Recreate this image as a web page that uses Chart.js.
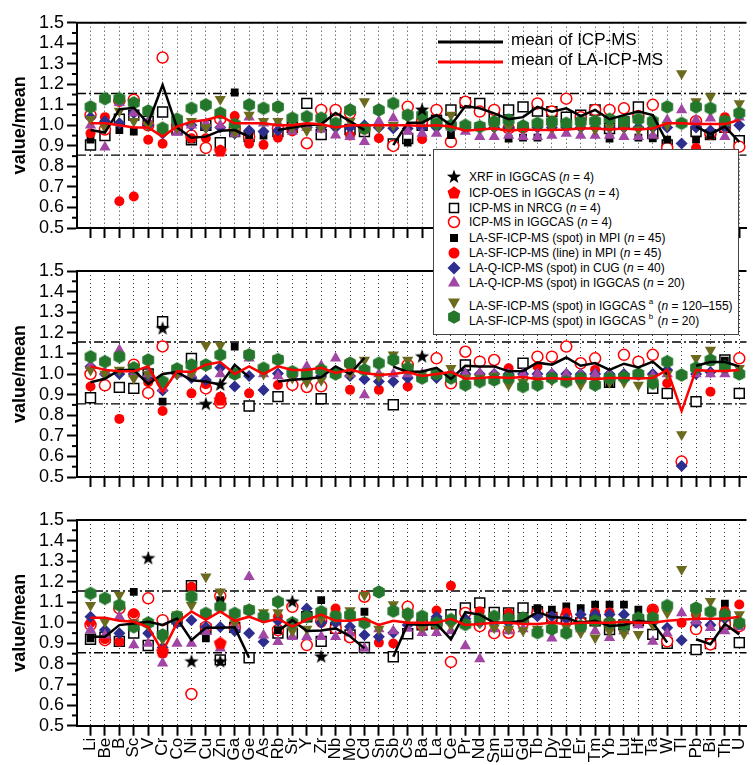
<!DOCTYPE html>
<html>
<head>
<meta charset="utf-8">
<script src="https://cdn.jsdelivr.net/npm/chart.js@4.4.0/dist/chart.umd.min.js"></script>
<style>
body{margin:0;background:#fff;width:755px;height:765px;overflow:hidden;position:relative;font-family:"Liberation Sans",Arial,sans-serif;color:#000}
canvas{position:absolute;left:0}
#legend{position:absolute;left:433px;top:149px;width:306px;height:186px;border:1px solid #444;background:#fff;box-sizing:border-box;font-size:12px;z-index:5}
.row{position:absolute;left:0;height:16px;white-space:nowrap}
.row svg{position:absolute;left:12px;top:0}
.row span{position:absolute;left:35px;top:0;line-height:16px}
.row sup{font-size:8px;vertical-align:6px;margin-left:3px;margin-right:1px}
#means{position:absolute;left:438px;top:30px;z-index:5;font-size:17px}
#means div{position:relative;height:20px;line-height:20px}
#means svg{position:absolute;left:0;top:0}
#means span{position:absolute;left:73px;top:0;white-space:nowrap}
</style>
</head>
<body>
<canvas id="c1" width="755" height="250" style="top:0"></canvas>
<canvas id="c2" width="755" height="250" style="top:250px"></canvas>
<canvas id="c3" width="755" height="265" style="top:500px"></canvas>
<div id="means"></div>
<div id="legend"></div>
<script>
const _ = null;
const elements = ['Li','Be','B','Sc','V','Cr','Co','Ni','Cu','Zn','Ga','Ge','As','Rb','Sr','Y','Zr','Nb','Mo','Cd',
  'Sn','Sb','Cs','Ba','La','Ce','Pr','Nd','Sm','Eu','Gd','Tb','Dy','Ho','Er','Tm','Yb','Lu','Hf','Ta','W','Tl','Pb','Bi','Th','U'];
const limits = [0.855, 1.155];

// ---- top panel ----
const xrf1 = [_,_,_,_,_,_,_,_,_,_, _,_,_,_,_,_,_,_,_,_, _,_,_,1.075,_,_,_,_,_,_, _,_,_,_,_,_,_,_,_,_, _,_,_,_,_,_];
const oes1 = [_,_,_,_,_,_,_,_,_,.875, _,_,_,_,_,_,_,_,_,_, _,_,_,_,_,_,_,_,_,_, _,_,_,_,_,_,_,_,_,_, _,_,_,_,_,_];
const nrcg1 = [.904,.95,1.03,1.05,1.02,1.065,.98,.93,1.0,.915,
  .97,.945,_,.97,.99,1.107,.955,1.045,.98,.97,
  _,.91,.936,1.0,1.025,1.075,1.11,1.107,1.04,1.075,
  1.09,1.07,1.067,1.04,1.05,1.075,.985,1.017,1.09,.96,
  .905,_,.97,.955,.99,.925];
const icp1 = [1.05,.98,1.12,1.125,1.0,1.33,1.0,.95,.89,1.03,
  .985,.945,_,.985,.99,.913,1.075,1.075,1.06,.985,
  _,.9,1.09,1.02,1.075,.92,1.115,1.067,1.075,.985,
  .99,1.107,1.067,1.13,1.04,1.075,1.075,1.083,1.045,1.1,
  .89,_,1.02,.96,.99,.896];
const mpiSpot1 = [.93,_,.977,.97,_,_,_,.93,_,_,
  1.16,.95,.95,_,_,_,_,_,_,_,
  _,_,.916,_,_,.953,_,_,_,.935,
  .94,.94,_,_,_,_,.935,_,.94,.937,
  .93,_,.93,.953,_,_];
const mpiLine1 = [.961,1.04,.63,.653,.93,.91,_,.937,.937,.88,
  1.045,.91,.905,.94,.97,_,_,_,.95,_,
  .937,_,_,.932,_,_,_,_,_,_,
  _,_,_,_,_,_,_,_,_,_,
  _,_,.89,_,1.04,_];
const cug1 = [1.04,1.02,1.01,1.06,1.0,.96,1.0,1.0,.99,.99,
  .96,.975,.97,.975,.985,.99,.99,.99,.99,1.0,
  .99,.986,.985,.99,.99,.99,.99,.99,.99,.99,
  .99,.99,.99,.99,.99,.99,.99,.99,.99,.99,
  .99,.912,.99,.975,.99,1.0];
const qIgg1 = [1.0,.893,1.11,1.06,1.02,.98,.965,1.0,1.01,1.0,
  .96,1.04,1.01,1.01,.97,.99,.98,.952,.945,.92,
  1.02,1.034,.97,.96,.96,.99,.97,.945,.945,.95,
  .945,.945,.95,.96,.95,.95,.95,.945,.945,.95,
  1.026,1.075,1.026,1.034,.945,1.04];
const sfA1 = [1.03,.99,1.07,1.02,1.0,.97,.99,1.02,.99,1.127,
  .965,1.05,1.02,1.02,.99,.975,.99,1.0,1.02,1.116,
  .99,1.0,1.04,1.02,1.0,1.05,1.0,1.0,.99,.99,
  .99,1.0,.99,1.0,.99,.98,.99,.99,.98,.99,
  1.0,1.253,1.116,1.14,1.03,1.107];
const sfB1 = [1.09,1.13,1.13,1.11,1.07,.986,1.03,1.083,1.1,1.06,
  1.005,1.1,1.083,1.09,1.035,1.042,1.035,1.01,1.075,.985,
  1.075,1.107,1.05,1.05,1.01,1.0,1.0,.994,1.018,1.026,
  .997,1.01,1.018,1.01,1.02,1.02,1.03,1.02,1.03,1.02,
  1.09,1.01,1.09,1.083,1.02,1.06];
const icpMean1 = [.977,.965,1.078,1.086,1.01,1.197,.99,.94,.945,.974,
  .977,.945,_,.977,.99,1.0,1.005,1.06,1.02,.977,
  _,.904,1.013,1.013,1.05,1.0,1.094,1.083,1.058,1.03,
  1.04,1.09,1.067,1.083,1.045,1.075,1.03,1.05,1.067,1.05,
  .916,_,.994,.958,.994,.92];
const laMean1 = [1.01,1.01,1.0,.99,.99,.945,.994,1.018,1.026,1.045,
  1.01,1.01,1.01,1.0,1.0,1.01,1.005,.99,1.0,1.0,
  1.0,1.0,1.0,.997,1.0,.994,.974,.98,.985,.974,
  .98,.977,.977,.98,.985,.985,.98,.985,.98,.985,
  1.01,1.01,1.006,1.006,1.006,1.026];

// ---- middle panel ----
const xrf2 = [_,_,_,_,_,1.22,_,_,.853,.947, _,_,_,_,_,_,_,_,_,_, _,_,_,1.084,_,_,_,_,_,_, _,_,_,_,_,_,_,_,_,_, _,_,_,_,_,_];
const oes2 = [_,_,_,_,_,_,_,_,_,.874, _,_,_,_,_,_,_,_,_,_, _,_,_,_,_,_,_,_,_,_, _,_,_,_,_,_,_,_,_,_, _,_,_,_,_,_];
const nrcg2 = [.885,_,.935,.93,1.0,1.254,_,1.076,_,_,
  _,.845,_,.89,_,_,.88,_,_,_,
  _,.851,_,_,_,_,1.044,_,_,_,
  1.052,_,_,_,_,_,.96,_,_,.93,
  .906,_,.866,_,1.068,.906];
const icp2 = [1.0,.945,_,1.045,.908,1.134,_,_,.93,.86,
  _,_,_,_,.947,.937,.94,_,1.05,_,
  _,_,1.044,_,1.076,.955,1.108,1.06,1.068,_,
  _,1.084,1.084,1.133,1.052,1.076,_,1.093,1.06,1.093,
  _,.575,_,_,_,1.076];
const mpiSpot2 = [_,_,_,_,.99,.866,_,_,_,_,
  1.133,_,_,_,_,_,_,_,_,_,
  _,_,_,_,_,_,1.0,_,_,_,
  1.0,_,_,_,_,_,.955,_,_,_,
  _,_,_,1.06,1.065,_];
const mpiLine2 = [.939,_,.782,_,.96,.82,_,.906,.95,.89,
  _,.906,_,.947,_,_,_,_,.923,_,
  .923,_,.939,_,_,_,_,_,_,1.028,
  _,1.036,_,_,_,1.02,_,_,_,_,
  .955,_,_,.914,_,_];
const cug2 = [1.036,1.0,1.0,1.0,.99,.92,1.0,.98,.971,1.03,
  .939,.99,.922,1.003,.99,.98,.99,1.0,.99,.975,
  .963,.963,.98,.98,.98,1.0,1.0,1.0,1.0,1.0,
  1.0,1.0,1.0,1.0,1.0,1.0,1.0,1.0,1.0,1.0,
  1.02,.553,1.0,1.01,1.02,1.0];
const qIgg2 = [1.04,1.01,1.117,1.0,1.0,.93,1.0,1.0,1.04,1.0,
  1.0,1.076,1.0,.99,1.0,1.036,1.04,1.076,1.0,.898,
  1.0,1.0,1.0,1.0,1.0,1.01,1.0,1.005,1.0,1.0,
  1.0,1.0,1.0,1.0,1.0,1.0,1.0,.99,1.0,.99,
  1.0,_,1.0,1.0,1.0,1.0];
const sfA2 = [1.02,1.0,1.02,.979,1.0,.96,1.0,1.0,1.14,1.14,
  1.0,1.1,1.0,1.076,.98,.96,.97,1.0,1.0,1.068,
  .99,1.093,1.068,1.0,1.0,1.028,.98,.98,.99,.947,
  .96,.97,.97,.97,.947,.97,.96,.96,.947,.98,
  1.0,.706,1.076,1.117,1.04,1.028];
const sfB2 = [1.084,1.06,1.084,1.03,1.068,.963,1.025,1.044,1.044,1.093,
  1.0,1.093,1.028,1.07,1.011,1.0,1.02,1.0,1.052,1.02,
  1.052,1.068,1.028,.98,1.0,.98,.947,.963,.971,.98,
  .939,.947,.98,.963,.98,.947,.98,.985,1.0,.955,
  1.06,.995,1.03,1.068,1.036,1.0];
const icpMean2 = [.96,.977,1.02,1.02,.951,1.0,1.01,.97,.964,.948,
  1.045,.984,_,.964,.972,.977,.984,1.037,1.0,1.078,
  _,1.036,1.01,1.012,1.03,.976,1.04,1.037,1.037,1.013,
  1.015,1.055,1.045,1.08,1.04,1.053,1.02,1.05,1.032,1.06,
  1.0,_,1.04,1.058,1.058,1.037];
const laMean2 = [1.037,1.02,1.013,1.013,1.037,.913,1.013,1.01,1.045,1.058,
  1.0,1.037,1.0,1.037,1.02,1.02,1.03,1.005,1.02,1.005,
  .995,1.0,1.01,.99,1.0,1.01,.977,.98,.985,.98,
  .985,.975,.98,.975,.98,.975,.98,.98,.978,.98,
  1.02,.82,1.02,1.015,1.015,1.02];

// ---- bottom panel ----
const xrf3 = [_,_,_,_,1.313,_,_,.811,_,.811, _,_,_,_,1.102,_,.835,_,_,_, _,_,_,_,_,_,_,_,_,_, _,_,_,_,_,_,_,_,_,_, _,_,_,_,_,_];
const oes3 = [_,_,_,_,_,.86,_,_,_,.9, _,_,_,_,_,_,_,_,_,_, _,_,_,_,_,_,_,_,_,_, _,_,_,_,_,_,_,_,_,_, _,_,_,_,_,_];
const nrcg3 = [.92,.93,.91,.95,.89,.97,1.02,1.18,.97,.82,
  .978,.83,_,.95,.95,1.03,.91,.973,.941,.88,
  _,.835,.947,.99,.995,1.04,1.072,1.097,1.05,1.048,
  1.072,1.054,1.026,1.018,1.0,1.01,.968,.99,1.01,.944,
  .9,_,.87,.899,.994,.904];
const icp3 = [.99,.916,1.07,1.04,1.119,1.013,1.02,.654,.98,1.13,
  .978,_,_,.965,1.078,.892,1.01,.973,.93,1.127,
  _,_,1.078,.99,.995,.81,1.048,.984,.95,.952,
  1.0,1.05,1.03,1.03,1.0,1.01,1.0,.99,1.01,1.064,
  .91,_,.97,.895,.994,.984];
const mpiSpot3 = [.924,_,_,1.151,_,_,1.0,_,.924,1.11,
  _,_,_,.965,1.0,_,1.11,_,_,1.054,
  _,_,_,_,_,_,_,_,1.03,_,
  1.03,1.072,1.064,1.08,1.072,1.089,1.089,1.089,1.064,_,
  _,_,_,_,1.093,_];
const mpiLine3 = [1.0,.92,.908,1.046,_,.85,_,1.175,_,.9,
  _,_,_,1.03,1.0,_,1.0,1.07,_,_,
  .904,.9,_,_,1.06,1.18,_,1.057,_,1.048,
  _,_,_,1.05,_,1.05,1.05,_,_,1.064,
  _,1.0,1.04,_,1.057,1.089];
const cug3 = [1.03,.965,.949,.99,.95,.88,1.0,1.013,.98,.98,
  .96,.949,.908,1.01,1.0,1.07,1.0,1.0,.981,.941,
  .932,.952,.99,.99,1.03,1.0,1.02,1.0,1.0,1.0,
  1.01,1.032,1.032,1.02,1.04,1.04,1.04,1.04,1.02,1.0,
  .976,.915,1.0,.99,1.02,1.0];
const qIgg3 = [.965,.94,1.03,.892,.9,.803,.9,.9,.957,.876,
  .99,1.224,.94,.908,.932,.932,.932,.932,.95,.876,
  .97,.96,.973,.952,.952,.96,.888,.824,.97,.96,
  .97,.96,.925,.97,.97,.96,.928,.96,.99,.909,
  .95,1.048,1.008,.976,.96,.98];
const sfA3 = [1.086,1.005,1.135,1.0,.99,.92,1.04,1.086,1.224,1.151,
  1.0,1.07,1.05,1.05,.96,.97,1.02,1.04,1.06,1.135,
  .97,1.089,1.02,.98,1.0,.99,1.0,1.0,.976,.97,
  .963,.97,.97,.98,.952,.928,.96,.947,.944,.99,
  1.048,1.26,1.04,1.105,1.03,1.04];
const sfB3 = [1.143,1.119,1.086,.981,1.0,.941,1.03,1.127,1.046,1.078,
  1.046,1.062,1.03,1.102,1.0,1.03,1.054,1.03,1.038,1.0,
  1.15,1.057,1.044,1.032,1.0,1.016,.992,1.02,1.032,1.02,
  1.024,.952,.97,.95,.984,1.01,1.0,.99,1.024,1.024,
  1.084,_,1.072,1.054,1.04,1.0];
const icpMean3 = [.932,.932,.989,.997,1.005,.99,1.021,.916,.976,.976,
  .978,.83,_,.958,1.013,.96,.963,.973,.935,.876,
  _,.835,.995,.99,.995,.92,1.052,1.04,1.0,1.0,
  1.01,1.052,1.028,1.024,1.0,1.01,.985,.99,1.01,1.0,
  .905,_,.92,.896,.994,.944];
const laMean3 = [1.025,1.025,1.01,1.005,.98,.86,1.0,1.055,1.015,1.055,
  1.01,1.03,1.003,1.02,.982,1.015,1.04,1.01,1.01,1.02,
  .99,1.01,1.0,1.0,1.0,1.02,.99,.995,1.0,1.0,
  .995,.995,1.0,.995,1.0,1.0,1.0,1.005,1.0,1.0,
  1.01,1.015,1.02,1.02,1.02,1.03];

const RED = '#ff0000', NAVY = '#2e2e8f', PURPLE = '#a246a6', OLIVE = '#6b6b1f', GREEN = '#23762a';

// polygon helper for star / pentagon / hexagon symbols
function poly(n, r, inner) {
  const pts = [];
  const k = inner ? 2 * n : n;
  for (let i = 0; i < k; i++) {
    const rr = inner && i % 2 ? inner : r;
    const a = -Math.PI / 2 + i * 2 * Math.PI / k;
    pts.push([rr * Math.cos(a), rr * Math.sin(a)]);
  }
  return pts;
}
function symbol(pts, color, size) {
  const c = document.createElement('canvas');
  c.width = c.height = size;
  const g = c.getContext('2d');
  g.beginPath();
  pts.forEach(p => g.lineTo(size / 2 + p[0], size / 2 + p[1]));
  g.closePath();
  g.fillStyle = color;
  g.fill();
  return c;
}
const starImg = symbol(poly(5, 7.5, 3), '#000', 16);
const pentImg = symbol(poly(5, 6.8), RED, 16);
const hexImg = symbol(poly(6, 6.8), GREEN, 16);

const markerStyles = [
  {pointStyle: starImg, order: 3},
  {pointStyle: pentImg, order: 4},
  {pointStyle: 'rect', pointRadius: 7, pointBackgroundColor: '#fff', pointBorderColor: '#000', pointBorderWidth: 1.5, order: 13},
  {pointStyle: 'circle', pointRadius: 5.5, pointBackgroundColor: '#fff', pointBorderColor: RED, pointBorderWidth: 1.5, order: 12},
  {pointStyle: 'rect', pointRadius: 5.5, pointBackgroundColor: '#000', pointBorderWidth: 0, order: 11},
  {pointStyle: 'circle', pointRadius: 5, pointBackgroundColor: RED, pointBorderWidth: 0, order: 10},
  {pointStyle: 'rectRot', pointRadius: 6, pointBackgroundColor: NAVY, pointBorderWidth: 0, order: 9},
  {pointStyle: 'triangle', pointRadius: 6.5, pointBackgroundColor: PURPLE, pointBorderWidth: 0, order: 8},
  {pointStyle: 'triangle', pointRotation: 180, pointRadius: 6.5, pointBackgroundColor: OLIVE, pointBorderWidth: 0, order: 7},
  {pointStyle: hexImg, order: 6}
];

const framePlugin = {
  id: 'frame',
  beforeDatasetsDraw(chart) {
    const {ctx, chartArea: a, scales: {y}} = chart;
    ctx.save();
    ctx.strokeStyle = '#000';
    ctx.lineWidth = 1.4;
    ctx.setLineDash([9, 3, 2, 3]);
    limits.forEach(v => {
      const py = y.getPixelForValue(v);
      ctx.beginPath(); ctx.moveTo(a.left, py); ctx.lineTo(a.right, py); ctx.stroke();
    });
    ctx.restore();
  },
  afterDraw(chart) {
    const {ctx, chartArea: a, scales: {y}} = chart;
    ctx.save();
    ctx.strokeStyle = '#000';
    ctx.lineWidth = 2;
    ctx.beginPath(); ctx.moveTo(a.left - 1, a.top); ctx.lineTo(a.right, a.top); ctx.stroke();
    // minor ticks
    for (let v = 0.55; v < 1.5; v += 0.1) {
      const py = y.getPixelForValue(v);
      ctx.beginPath(); ctx.moveTo(a.left - 5, py); ctx.lineTo(a.left, py); ctx.stroke();
    }
    ctx.restore();
  }
};

function makePanel(id, series, icpMean, laMean, padTop, axisH, showLabels) {
  const pts = arr => arr.map((v, i) => v == null ? null : {x: i, y: v}).filter(p => p);
  const datasets = series.map((arr, k) => Object.assign({type: 'scatter', data: pts(arr)}, markerStyles[k]));
  datasets.push({type: 'line', data: icpMean.map((v, i) => ({x: i, y: v})), borderColor: '#000', borderWidth: 2.5,
    pointRadius: 0, spanGaps: false, tension: 0, order: 1});
  datasets.push({type: 'line', data: laMean.map((v, i) => ({x: i, y: v})), borderColor: RED, borderWidth: 2.5,
    pointRadius: 0, spanGaps: false, tension: 0, order: 0});
  new Chart(document.getElementById(id), {
    type: 'scatter',
    data: {datasets},
    options: {
      responsive: false,
      animation: false,
      events: [],
      layout: {padding: {top: padTop, left: 0, right: 0, bottom: 0}},
      plugins: {legend: {display: false}, tooltip: {enabled: false}},
      scales: {
        x: {
          type: 'linear', min: -0.938, max: 45.5,
          afterBuildTicks: s => { s.ticks = elements.map((e, i) => ({value: i})); },
          afterFit: s => { s.height = axisH; s.paddingLeft = 0; s.paddingRight = 0; },
          ticks: {display: showLabels, autoSkip: false, minRotation: 90, maxRotation: 90, padding: 2,
            color: '#000', font: {family: '"Liberation Sans", Arial', size: 17},
            callback: v => elements[v]},
          grid: {color: '#333', lineWidth: 1, tickLength: 10, tickWidth: 2, tickColor: '#000'},
          border: {color: '#000', width: 2, dash: [1, 3]}
        },
        y: {
          min: 0.5, max: 1.5,
          afterFit: s => { s.width = 77; s.paddingTop = 0; s.paddingBottom = 0; },
          ticks: {stepSize: 0.1, autoSkip: false, color: '#000', padding: 3,
            font: {family: '"Liberation Sans", Arial', size: 18},
            callback: v => v.toFixed(1)},
          grid: {drawOnChartArea: false, tickLength: 10, tickWidth: 2, tickColor: '#000'},
          border: {color: '#000', width: 2},
          title: {display: true, text: 'value/mean', color: '#000', padding: {top: 9, bottom: 0},
            font: {family: '"Liberation Sans", Arial', size: 18, weight: 'bold'}}
        }
      }
    },
    plugins: [framePlugin]
  });
}

makePanel('c1', [xrf1, oes1, nrcg1, icp1, mpiSpot1, mpiLine1, cug1, qIgg1, sfA1, sfB1], icpMean1, laMean1, 22.7, 22, false);
makePanel('c2', [xrf2, oes2, nrcg2, icp2, mpiSpot2, mpiLine2, cug2, qIgg2, sfA2, sfB2], icpMean2, laMean2, 21, 23, false);
makePanel('c3', [xrf3, oes3, nrcg3, icp3, mpiSpot3, mpiLine3, cug3, qIgg3, sfA3, sfB3], icpMean3, laMean3, 20, 39.3, true);

// legends (html overlays)
function svgPoly(pts, fill) {
  return '<polygon points="' + pts.map(p => (8 + p[0]).toFixed(2) + ',' + (8 + p[1]).toFixed(2)).join(' ') + '" fill="' + fill + '"/>';
}
const legendRows = [
  [svgPoly(poly(5, 7.5, 3), '#000'), 'XRF in IGGCAS (<i>n</i> = 4)', 27],
  [svgPoly(poly(5, 6.8), RED), 'ICP-OES in IGGCAS (<i>n</i> = 4)', 43],
  ['<rect x="3.5" y="3.5" width="9" height="9" fill="#fff" stroke="#000" stroke-width="1.5"/>', 'ICP-MS in NRCG (<i>n</i> = 4)', 58],
  ['<circle cx="8" cy="8" r="5.5" fill="#fff" stroke="' + RED + '" stroke-width="1.5"/>', 'ICP-MS in IGGCAS (<i>n</i> = 4)', 72],
  ['<rect x="4" y="4" width="8" height="8" fill="#000"/>', 'LA-SF-ICP-MS (spot) in MPI (<i>n</i> = 45)', 88],
  ['<circle cx="8" cy="8" r="5.5" fill="' + RED + '"/>', 'LA-SF-ICP-MS (line) in MPI (<i>n</i> = 45)', 103],
  [svgPoly([[0, -6.5], [6.5, 0], [0, 6.5], [-6.5, 0]], NAVY), 'LA-Q-ICP-MS (spot) in CUG (<i>n</i> = 40)', 118],
  [svgPoly(poly(3, 7), PURPLE), 'LA-Q-ICP-MS (spot) in IGGCAS (<i>n</i> = 20)', 133],
  [svgPoly(poly(3, 7).map(p => [p[0], -p[1]]), OLIVE), 'LA-SF-ICP-MS (spot) in IGGCAS<sup>a</sup> (<i>n</i> = 120–155)', 152],
  [svgPoly(poly(6, 6.8), GREEN), 'LA-SF-ICP-MS (spot) in IGGCAS<sup>b</sup> (<i>n</i> = 20)', 167]
];
document.getElementById('legend').innerHTML = legendRows.map(r =>
  '<div class="row" style="top:' + (r[2] - 8) + 'px"><svg width="16" height="16">' + r[0] + '</svg><span>' + r[1] + '</span></div>').join('');

document.getElementById('means').innerHTML =
  '<div><svg width="66" height="20"><line x1="0" y1="12" x2="65" y2="12" stroke="#000" stroke-width="3"/></svg><span>mean of ICP-MS</span></div>' +
  '<div><svg width="66" height="20"><line x1="0" y1="12" x2="65" y2="12" stroke="' + RED + '" stroke-width="3"/></svg><span>mean of LA-ICP-MS</span></div>';
</script>
</body>
</html>
